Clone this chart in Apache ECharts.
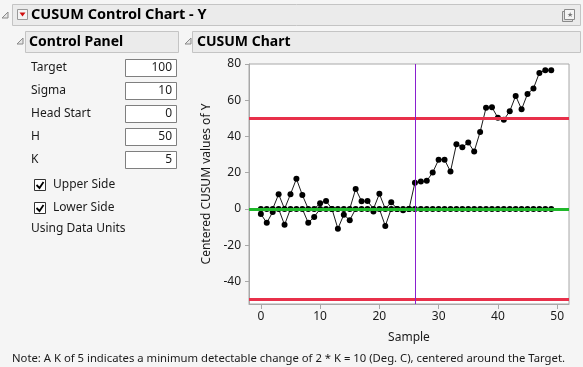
<!DOCTYPE html>
<html><head><meta charset="utf-8">
<script src="https://cdn.jsdelivr.net/npm/echarts@6/dist/echarts.min.js"></script>
<style>html,body{margin:0;padding:0;background:#f5f5f5}#c{width:583px;height:367px}</style>
</head><body><div id="c"></div>
<script>
// ---- data ----
const samples = [0,1,2,3,4,5,6,7,8,9,10,11,12,13,14,15,16,17,18,19,20,21,22,23,24,25,26,27,28,29,30,31,32,33,34,35,36,37,38,39,40,41,42,43,44,45,46,47,48,49];
const upperCusum = [0,0,0,8.1,0,8.1,16.6,7.7,0,0,3.1,4.4,0,0,0,0,11,4.2,4.4,0,8.3,0,3.7,0,0,0,14.5,15.1,15.5,20.1,27.2,27.2,20.6,35.7,34,36.6,31.7,42.5,55.8,56.1,50.3,49.2,53.9,62.4,55,63.5,66.5,75.1,76.6,76.6];
const lowerCusum = [-2.8,-7.7,-1.7,0,-8.8,0,0,0,-7.7,-4.4,0,0,0,-10.9,-3.2,-6.2,0,0,0,-1.5,0,-9.4,0,0,-0.8,0,0,0,0,0,0,0,0,0,0,0,0,0,0,0,0,0,0,0,0,0,0,0,0,0];
const xTicks = [0,10,20,30,40,50];
const yTicks = [-40,-20,0,20,40,60,80];
const decisionH = 50;
const centerValue = 0;
const shiftSample = 26;
const panelLabels = ['Target','Sigma','Head Start','H','K'];
const panelValues = ['100','10','0','50','5'];
const checkLabels = ['Upper Side','Lower Side'];
const titleText = 'CUSUM Control Chart - Y';
const noteText = 'Note: A K of 5 indicates a minimum detectable change of 2 * K = 10 (Deg. C), centered around the Target.';

// ---- styling ----
const FONT = '"Noto Sans", sans-serif';
const TXT = '#1a1a1a';
const chart = echarts.init(document.getElementById('c'), null, {renderer:'canvas'});

function txt(x, y, s, opts) {
  opts = opts || {};
  return {type:'text', x:x, y:y, silent:true, z:10, style:{
    text:s, font:(opts.weight||'normal')+' '+(opts.size||12)+'px '+FONT,
    fill:opts.color||TXT, align:opts.align||'left', verticalAlign:'middle'}};
}
function tri(x, y) {
  return {type:'polygon', silent:true, z:10, shape:{points:[[x,y+6],[x+6,y],[x+6,y+6]]},
    style:{fill:'#e6e6e6', stroke:'#8a8a8a', lineWidth:1}};
}
const graphics = [];
// Header
graphics.push(tri(2,12));
graphics.push({type:'rect', silent:true, z:5, shape:{x:12.5,y:4.5,width:568,height:21}, style:{fill:'#ebebeb', stroke:'#c4c4c4', lineWidth:1}});
graphics.push({type:'rect', silent:true, z:10, shape:{x:17.5,y:9.5,width:10,height:10}, style:{fill:'#f4f4f4', stroke:'#9a9a9a', lineWidth:1}});
graphics.push({type:'polygon', silent:true, z:11, shape:{points:[[19.5,12.5],[25.5,12.5],[22.5,16.5]]}, style:{fill:'#d01010'}});
graphics.push(txt(31, 15, titleText, {weight:'bold', size:14.5, color:'#000'}));
graphics.push({type:'rect', silent:true, z:10, shape:{x:564.5,y:9.5,width:10,height:10}, style:{fill:'#f4f4f4', stroke:'#8a8a8a', lineWidth:1}});
graphics.push({type:'rect', silent:true, z:9, shape:{x:562.5,y:11.5,width:10,height:10}, style:{fill:'#e0e0e0', stroke:'#8a8a8a', lineWidth:1}});
graphics.push(txt(569.5, 14.5, '\u2605', {size:7, color:'#777', align:'center'}));
// Sub headers
graphics.push(tri(17,38));
graphics.push({type:'rect', silent:true, z:5, shape:{x:25.5,y:31.5,width:153,height:21}, style:{fill:'#ebebeb', stroke:'#c4c4c4', lineWidth:1}});
graphics.push(txt(29, 42, 'Control Panel', {weight:'bold', size:14, color:'#000'}));
graphics.push(tri(185,38));
graphics.push({type:'rect', silent:true, z:5, shape:{x:192.5,y:31.5,width:388,height:21}, style:{fill:'#ebebeb', stroke:'#c4c4c4', lineWidth:1}});
graphics.push(txt(197, 42, 'CUSUM Chart', {weight:'bold', size:14, color:'#000'}));
// Control panel rows
const rowY = [68, 91, 114, 137, 160];
panelLabels.forEach((lab, i) => {
  graphics.push(txt(31, rowY[i], lab));
  graphics.push({type:'rect', silent:true, z:5, shape:{x:125.5,y:rowY[i]-8.5,width:51,height:17}, style:{fill:'#fff', stroke:'#7f7f7f', lineWidth:1}});
  graphics.push(txt(172, rowY[i], panelValues[i], {align:'right'}));
});
const chkY = [185, 208];
checkLabels.forEach((lab, i) => {
  const cy = chkY[i];
  graphics.push({type:'rect', silent:true, z:5, shape:{x:34.5,y:cy-5.5,width:11,height:11}, style:{fill:'#fff', stroke:'#333', lineWidth:1}});
  graphics.push({type:'polyline', silent:true, z:6, shape:{points:[[36.5,cy],[39.5,cy+3],[43.5,cy-3]]}, style:{stroke:'#000', lineWidth:1.8, fill:null}});
  graphics.push(txt(53, cy, lab));
});
graphics.push(txt(31, 229, 'Using Data Units'));
graphics.push(txt(12, 359, noteText, {size:11.3}));

const pairs = arr => samples.map((s, i) => [s, arr[i]]);
const ptStyle = {type:'line', symbol:'circle', symbolSize:6, showSymbol:true, silent:true, animation:false,
  itemStyle:{color:'#000'}, lineStyle:{color:'#1a1a1a', width:1}, z:3};

const option = {
  animation:false,
  backgroundColor:'#f5f5f5',
  textStyle:{fontFamily:FONT},
  graphic:graphics,
  grid:{left:249, top:64, width:320, height:240, show:true, backgroundColor:'#fff', borderColor:'#a8a8a8', borderWidth:1, containLabel:false},
  xAxis:{type:'value', min:-2, max:52, name:'Sample', nameLocation:'middle', nameGap:28,
    nameTextStyle:{fontSize:12, color:TXT, fontFamily:FONT},
    axisLine:{show:true, onZero:false, lineStyle:{color:'#a8a8a8'}},
    axisTick:{show:true, customValues:xTicks, length:5, lineStyle:{color:'#a8a8a8'}},
    axisLabel:{customValues:xTicks, fontSize:12, color:TXT, margin:7, fontFamily:FONT},
    splitLine:{show:false}},
  yAxis:{type:'value', min:-52.5, max:80, name:'Centered CUSUM values of Y', nameLocation:'middle', nameGap:25,
    nameTextStyle:{fontSize:12, color:TXT, fontFamily:FONT},
    axisLine:{show:true, onZero:false, lineStyle:{color:'#a8a8a8'}},
    axisTick:{show:true, customValues:yTicks, length:4, lineStyle:{color:'#a8a8a8'}},
    axisLabel:{customValues:yTicks, fontSize:12, color:TXT, margin:8, fontFamily:FONT},
    splitLine:{show:false}},
  series:[
    {type:'line', data:[], silent:true, z:1, markLine:{silent:true, symbol:'none', animation:false, label:{show:false},
      data:[
        {yAxis:decisionH, lineStyle:{color:'#e8304a', width:3, type:'solid'}},
        {yAxis:-decisionH, lineStyle:{color:'#e8304a', width:3, type:'solid'}}
      ]}},
    Object.assign({}, ptStyle, {name:'Upper', data:pairs(upperCusum)}),
    Object.assign({}, ptStyle, {name:'Lower', data:pairs(lowerCusum)}),
    {type:'line', data:[], silent:true, z:6, markLine:{silent:true, symbol:'none', animation:false, label:{show:false},
      data:[
        {yAxis:centerValue, lineStyle:{color:'#1fb82a', width:3, type:'solid'}},
        {xAxis:shiftSample, lineStyle:{color:'#8a1fd0', width:1, type:'solid'}}
      ]}}
  ]
};
chart.setOption(option);
</script>
</body></html>
